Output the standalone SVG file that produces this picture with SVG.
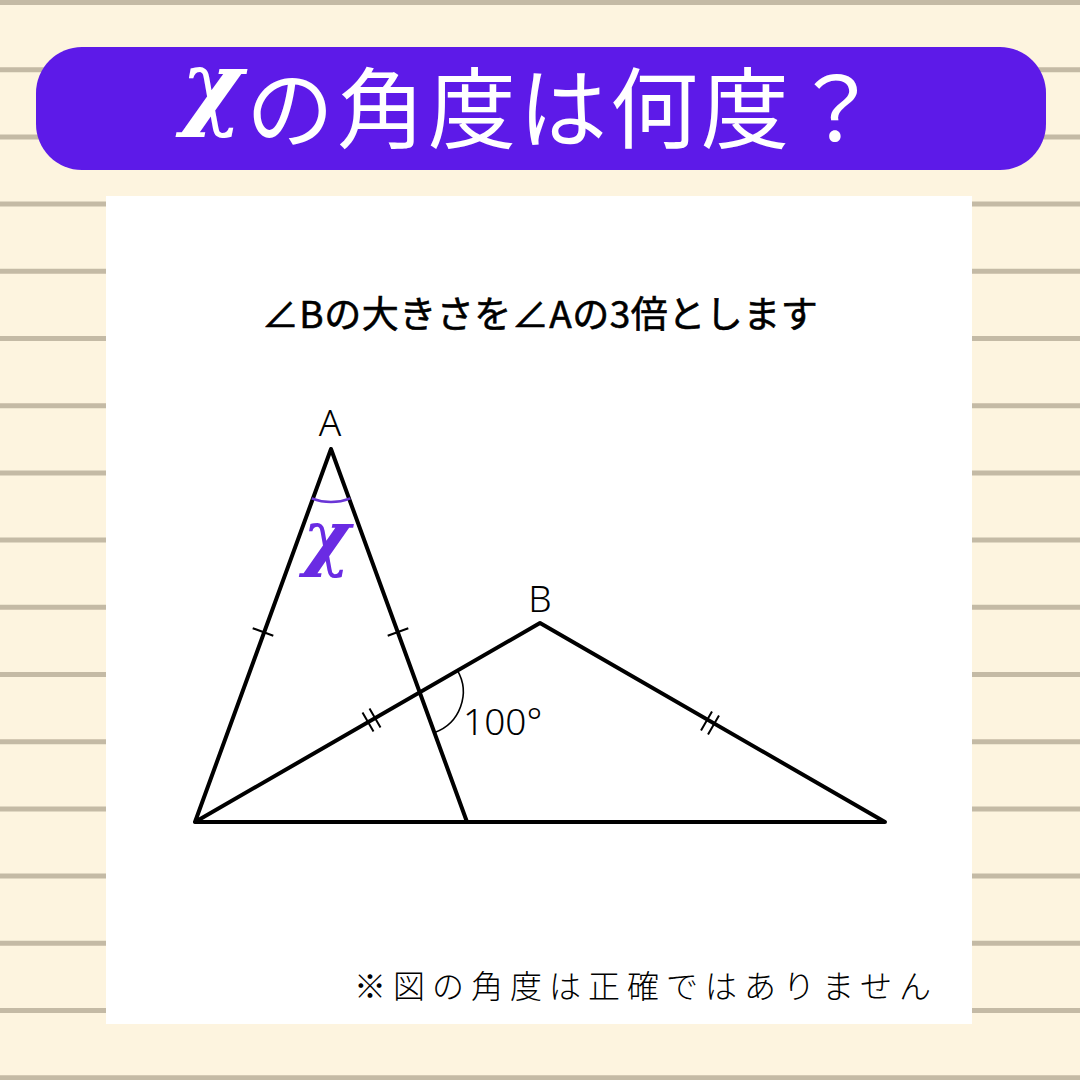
<svg xmlns="http://www.w3.org/2000/svg" width="1080" height="1080" viewBox="0 0 1080 1080">
<style>
.rule{stroke:#c4baa5;stroke-width:5}
.edge{stroke:#000;stroke-width:4;fill:none;stroke-linecap:round;stroke-linejoin:round}
.tick{stroke:#000;stroke-width:2;fill:none}
.jp{font-family:"Noto Sans CJK JP","Noto Sans",sans-serif}
.lbl{font-family:"Noto Sans","Open Sans",sans-serif;font-weight:300;font-size:37px;fill:#000}
.chi{font-family:"DejaVu Serif",serif;font-style:italic;font-weight:bold}
</style>
<rect id="background" x="0" y="0" width="1080" height="1080" fill="#fdf4df"/>
<g id="rules">
<line class="rule" x1="0" y1="2.5" x2="1080" y2="2.5"/>
<line class="rule" x1="0" y1="69.7" x2="1080" y2="69.7"/>
<line class="rule" x1="0" y1="136.9" x2="1080" y2="136.9"/>
<line class="rule" x1="0" y1="204.1" x2="1080" y2="204.1"/>
<line class="rule" x1="0" y1="271.3" x2="1080" y2="271.3"/>
<line class="rule" x1="0" y1="338.5" x2="1080" y2="338.5"/>
<line class="rule" x1="0" y1="405.7" x2="1080" y2="405.7"/>
<line class="rule" x1="0" y1="472.9" x2="1080" y2="472.9"/>
<line class="rule" x1="0" y1="540.1" x2="1080" y2="540.1"/>
<line class="rule" x1="0" y1="607.3" x2="1080" y2="607.3"/>
<line class="rule" x1="0" y1="674.5" x2="1080" y2="674.5"/>
<line class="rule" x1="0" y1="741.7" x2="1080" y2="741.7"/>
<line class="rule" x1="0" y1="808.9" x2="1080" y2="808.9"/>
<line class="rule" x1="0" y1="876.1" x2="1080" y2="876.1"/>
<line class="rule" x1="0" y1="943.3" x2="1080" y2="943.3"/>
<line class="rule" x1="0" y1="1010.5" x2="1080" y2="1010.5"/>
<line class="rule" x1="0" y1="1077.7" x2="1080" y2="1077.7"/>
</g>
<g id="title">
<rect x="36" y="47" width="1010" height="123" rx="46" fill="#5d1ae8"/>
<text class="chi" x="181" y="118" font-size="94" fill="#fff">χ</text>
<text class="jp" x="246" y="141" font-size="88" letter-spacing="3" fill="#fff">の角度は何度？</text>
</g>
<rect id="panel" x="106" y="196" width="866" height="828" fill="#fff"/>
<text id="condition" class="jp" x="540" y="328" font-size="37" font-weight="400" letter-spacing="0.5" text-anchor="middle" fill="#000" stroke="#000" stroke-width="0.6">∠Bの大きさを∠Aの3倍とします</text>
<g id="connectors">
<polyline class="edge" points="467,822 331,449 195,822 885,822 540,623 195,822"/>
<path class="tick" d="M252.7,628.2 L273.3,635.8 M387.7,635.8 L408.3,628.2"/>
<path class="tick" d="M362.5,712.4 L373.5,731.4 M369.5,708.4 L380.5,727.4"/>
<path class="tick" d="M701,730.5 L712,711.5 M708,734.5 L719,715.5"/>
<path d="M457.4,670.4 A43,43 0 0 1 434.7,732.4" fill="none" stroke="#000" stroke-width="1.6"/>
<path d="M311.7,498.3 A53,53 0 0 0 350.3,498.3" fill="none" stroke="#6a35d6" stroke-width="2.5"/>
</g>
<g id="node-A"><text class="lbl" x="330" y="436" text-anchor="middle">A</text></g>
<g id="node-B"><text class="lbl" x="540" y="612" text-anchor="middle">B</text></g>
<g id="angle-100"><text class="lbl" x="463" y="735">100°</text></g>
<g id="angle-x"><text class="chi" x="303" y="562" font-size="72" fill="#6a2be3">χ</text></g>
<text id="note" class="jp" x="354" y="998" font-size="32" font-weight="300" letter-spacing="7" fill="#000">※図の角度は正確ではありません</text>
</svg>
